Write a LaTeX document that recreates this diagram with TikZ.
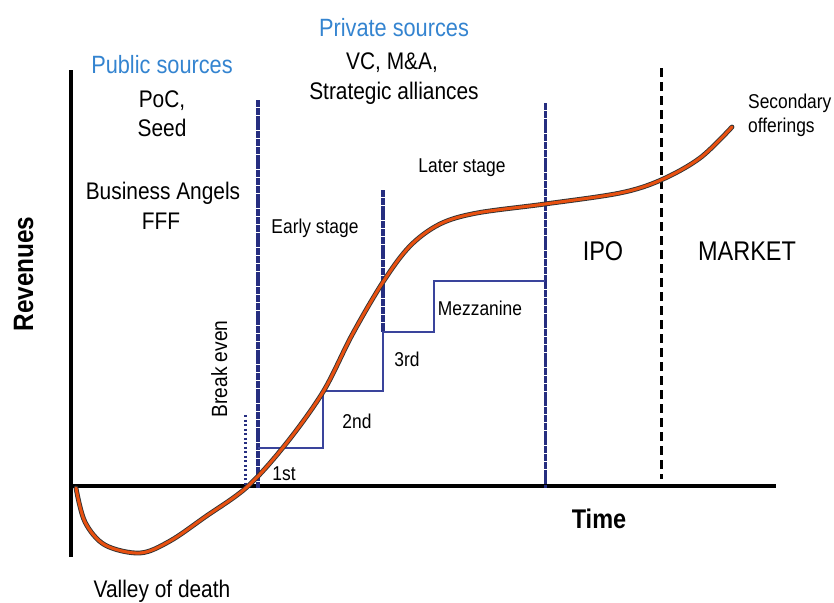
\documentclass[tikz,border=0pt]{standalone}
\usepackage{fontspec}
\setmainfont{Liberation Sans}[FakeStretch=0.87]
\definecolor{srcblue}{RGB}{52,132,208}
\definecolor{navy}{RGB}{38,46,128}
\definecolor{stepblue}{RGB}{58,68,156}
\definecolor{curveorange}{RGB}{232,80,16}
\tikzstyle{every node}=[inner sep=0pt,anchor=base]
\tikzstyle{source}=[text=srcblue,font=\fontsize{25}{28}\selectfont]
\tikzstyle{big}=[font=\fontsize{24}{28}\selectfont]
\tikzstyle{small}=[font=\fontsize{20}{23}\selectfont]
\tikzstyle{market}=[font=\fontsize{27}{30}\selectfont]
\tikzstyle{axislabel}=[font=\bfseries\fontsize{27}{30}\selectfont]
\tikzstyle{axis}=[line width=3.5pt,black]
\tikzstyle{stage}=[line width=3.2pt,navy,dash pattern=on 7pt off 0.8pt]
\tikzstyle{round}=[line width=2.4pt,stepblue]

\begin{document}
\begin{tikzpicture}[x=1pt,y=-1pt]
\useasboundingbox (0,0) rectangle (834,602);
\draw[axis] (71,70) -- (71,557);
\draw[axis] (71,486) -- (776,486);
\draw[stage] (258,100) -- (258,488);
\draw[stage] (383,190) -- (383,332);
\draw[stage,line width=3pt] (545,103) -- (545,488);
\draw[line width=3pt,dash pattern=on 9pt off 5pt] (661,68) -- (661,479);
\draw[line width=3pt,navy,dash pattern=on 2pt off 2.5pt] (245,415) -- (245,488);
\draw[round] (258,448) -- (323,448) -- (323,391) -- (383,391) -- (383,332)
  -- (434,332) -- (434,281) -- (545,281);
\foreach \w/\c in {4.8pt/black!80,3pt/curveorange}
\draw[line width=\w,\c,line cap=round] plot[smooth,tension=0.55] coordinates {
  (76,488) (85,522) (105,545) (140,553) (170,541) (205,517) (247,487)
  (285,445) (323,392) (352,335) (383,282) (410,246) (440,224) (477,213)
  (545,204) (620,193) (661,180) (700,158) (732,127)};
\node[source] (pubsrc) at (162,74) {Public sources};
\node[big] (poc) at (162,107) {PoC,};
\node[big] (seed) at (162,136) {Seed};
\node[big] (angels) at (163,199) {Business Angels};
\node[big] (fff) at (161,229) {FFF};
\node[source] (privsrc) at (394,37) {Private sources};
\node[big] (vcma) at (392,70) {VC, M\&A,};
\node[big] (strat) at (394,99) {Strategic alliances};
\node[small] (later) at (462,172) {Later stage};
\node[small] (early) at (315,233) {Early stage};
\node[small] (mezz) at (480,315) {Mezzanine};
\node[small] (third) at (407,366) {3rd};
\node[small] (second) at (357,428) {2nd};
\node[small] (first) at (284,480) {1st};
\node[market] (ipo) at (603,260) {IPO};
\node[market] (mkt) at (747,260) {MARKET};
\node[small,anchor=base west] (secondary) at (748,108) {Secondary};
\node[small,anchor=base west] (offerings) at (748,132) {offerings};
\node[axislabel] (time) at (599,528) {Time};
\node[axislabel,font=\bfseries\fontsize{28}{30}\selectfont,rotate=90] (revenues) at (33,274) {Revenues};
\node[big,font=\fontsize{22}{25}\selectfont,rotate=90] (breakeven) at (227,369) {Break even};
\node[big] (valley) at (162,597) {Valley of death};
\end{tikzpicture}
\end{document}
